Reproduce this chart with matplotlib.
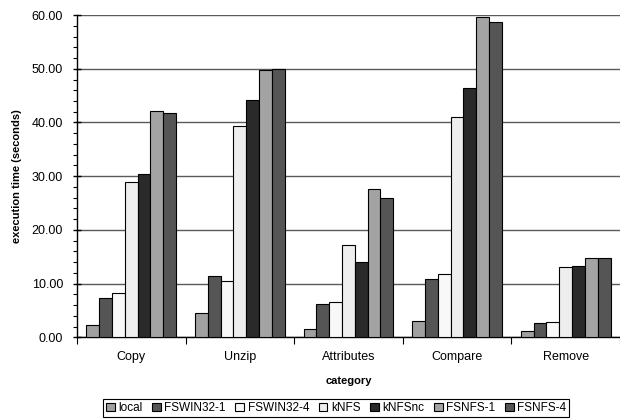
import matplotlib
matplotlib.use("Agg")
import matplotlib.pyplot as plt
import numpy as np
from matplotlib.ticker import MultipleLocator, FormatStrFormatter

plt.rcParams['font.family'] = ['Liberation Sans', 'DejaVu Sans']

categories = ["Copy", "Unzip", "Attributes", "Compare", "Remove"]
series_names = ["local", "FSWIN32-1", "FSWIN32-4", "kNFS", "kNFSnc", "FSNFS-1", "FSNFS-4"]
local = [2.3, 4.5, 1.5, 3.1, 1.2]
fswin32_1 = [7.3, 11.5, 6.2, 10.8, 2.7]
fswin32_4 = [8.2, 10.5, 6.6, 11.7, 2.9]
knfs = [29.0, 39.3, 17.2, 41.1, 13.1]
knfsnc = [30.5, 44.2, 14.1, 46.4, 13.2]
fsnfs_1 = [42.2, 49.8, 27.7, 59.7, 14.7]
fsnfs_4 = [41.7, 50.0, 25.9, 58.8, 14.7]
series_values = [local, fswin32_1, fswin32_4, knfs, knfsnc, fsnfs_1, fsnfs_4]
colors = ["#a0a0a0", "#555555", "#f8f8f8", "#eeeeee", "#2a2a2a", "#a3a3a3", "#555555"]

fig = plt.figure(figsize=(6.2, 4.19), dpi=100)
ax = fig.add_axes([0.124, 0.195, 0.876, 0.769])

n = len(series_names)
bw = 0.118
x = np.arange(len(categories))
for i, (name, vals, c) in enumerate(zip(series_names, series_values, colors)):
    ax.bar(x - n * bw / 2 + bw * (i + 0.5), vals, width=bw, color=c,
           edgecolor="black", linewidth=0.8, label=name, zorder=3)

ax.set_xlim(-0.5, len(categories) - 0.5)
ax.set_ylim(0, 60)
ax.yaxis.set_major_locator(MultipleLocator(10))
ax.yaxis.set_minor_locator(MultipleLocator(2))
ax.yaxis.set_major_formatter(FormatStrFormatter("%.2f"))
ax.grid(axis="y", which="major", color="#5a5a5a", linewidth=1.0, zorder=0)

ax.set_xticks(x)
ax.set_xticklabels(categories, fontsize=9)
ax.set_xticks(np.arange(len(categories) + 1) - 0.5, minor=True)
ax.tick_params(axis="x", which="major", length=0, pad=10)
ax.tick_params(axis="x", which="minor", length=5, width=0.8, direction="out")
ax.tick_params(axis="y", which="major", length=6, width=1.0, direction="inout", labelsize=9, pad=7)
ax.tick_params(axis="y", which="minor", length=3, width=0.8, direction="out")

for side in ("top", "right"):
    ax.spines[side].set_visible(False)
for side in ("left", "bottom"):
    ax.spines[side].set_color("black")
    ax.spines[side].set_linewidth(1.0)

ax.set_ylabel("execution time (seconds)", fontsize=8, fontweight="bold", labelpad=7)
ax.set_xlabel("category", fontsize=8, fontweight="bold", labelpad=9)

leg = fig.legend(loc="lower center", bbox_to_anchor=(0.542, 0.0), ncol=7, fontsize=8.5,
                 frameon=True, fancybox=False, edgecolor="black", framealpha=1,
                 handlelength=0.75, handleheight=0.75, handletextpad=0.3,
                 columnspacing=0.8, borderpad=0.25, borderaxespad=0.15)
leg.get_frame().set_linewidth(0.8)

fig.savefig("out.png", dpi=100)
